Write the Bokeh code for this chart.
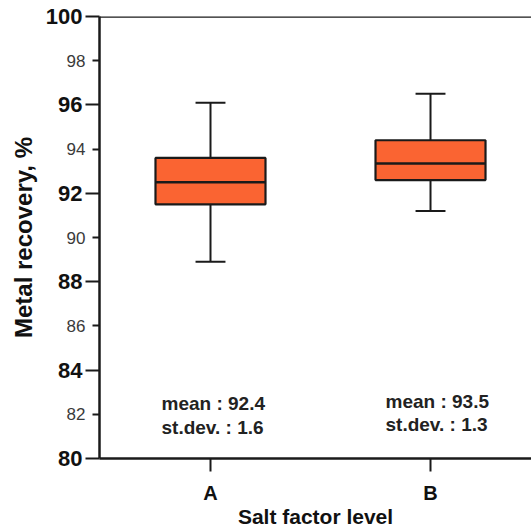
from bokeh.plotting import figure
from bokeh.models import Range1d, FixedTicker, Span, LinearAxis, ColumnDataSource
from bokeh.embed import file_html
from bokeh.resources import INLINE
from bokeh.core.properties import value

# ---- data ----
categories = ["A", "B"]
q1 = [91.5, 92.6]
median = [92.5, 93.35]
q3 = [93.6, 94.4]
whisker_low = [88.9, 91.2]
whisker_high = [96.1, 96.5]
mean_vals = [92.4, 93.5]
std_vals = [1.6, 1.3]
y_major_ticks = [80, 84, 88, 92, 96, 100]
y_minor_ticks = [82, 86, 90, 94, 98]

# ---- layout / style constants ----
FONT = "Liberation Sans"
BOX_W = 0.5
CAP_W = 0.136
FILL = "#FA6432"
DARK = "#1a1a1a"
stat_text_y = [81.94, 82.05]
stat_text_xoff = [-49, -45]

xpos = [i + 1 for i in range(len(categories))]

p = figure(width=531, height=530, output_backend="svg", toolbar_location=None,
           x_range=Range1d(0.4955, 2.459), y_range=Range1d(80, 100),
           min_border_left=99, min_border_right=0, min_border_top=16, min_border_bottom=72)
p.outline_line_color = None
p.xgrid.grid_line_color = None
p.ygrid.grid_line_color = None
p.background_fill_color = "white"
p.border_fill_color = "white"

# inner y axis: bold major labels + all ticks
ya = p.yaxis[0]
ya.ticker = FixedTicker(ticks=y_major_ticks, minor_ticks=y_minor_ticks)
ya.axis_line_width = 2.5
ya.axis_line_color = DARK
ya.major_tick_out = 14
ya.major_tick_in = 0
ya.minor_tick_out = 7
ya.minor_tick_in = 0
ya.major_tick_line_width = 2
ya.minor_tick_line_width = 2
ya.major_tick_line_color = DARK
ya.minor_tick_line_color = DARK
ya.major_label_text_font = FONT
ya.major_label_text_font_style = "bold"
ya.major_label_text_font_size = "22px"
ya.major_label_text_color = "#111111"
ya.major_label_standoff = 3

# outer y axis: regular labels for the in-between ticks, and the title
ya2 = LinearAxis(ticker=FixedTicker(ticks=y_minor_ticks, minor_ticks=[]))
ya2.axis_line_color = None
ya2.major_tick_line_color = None
ya2.minor_tick_line_color = None
ya2.major_tick_out = 0
ya2.major_tick_in = 0
ya2.minor_tick_out = 0
ya2.minor_tick_in = 0
ya2.major_label_text_font = FONT
ya2.major_label_text_font_size = "17px"
ya2.major_label_text_color = "#3a3a3a"
ya2.major_label_standoff = -43
ya2.axis_label = "Metal recovery, %"
ya2.axis_label_text_font = FONT
ya2.axis_label_text_font_style = "bold"
ya2.axis_label_text_font_size = "24px"
ya2.axis_label_text_color = "#111111"
ya2.axis_label_standoff = 27
p.add_layout(ya2, "left")

# x axis
xa = p.xaxis[0]
xa.ticker = FixedTicker(ticks=xpos)
xa.major_label_overrides = {x: c for x, c in zip(xpos, categories)}
xa.axis_line_width = 2.5
xa.axis_line_color = DARK
xa.major_tick_out = 13
xa.major_tick_in = 0
xa.major_tick_line_width = 2
xa.major_tick_line_color = DARK
xa.minor_tick_line_color = None
xa.major_label_text_font = FONT
xa.major_label_text_font_style = "bold"
xa.major_label_text_font_size = "20px"
xa.major_label_text_color = "#111111"
xa.major_label_standoff = 10
xa.axis_label = "Salt factor level"
xa.axis_label_text_font = FONT
xa.axis_label_text_font_style = "bold"
xa.axis_label_text_font_size = "21px"
xa.axis_label_text_color = "#111111"
xa.axis_label_standoff = -2

# top frame line
p.add_layout(Span(location=100, dimension="width", line_color=DARK, line_width=2.5))

# boxes
src = ColumnDataSource(dict(
    x=xpos, q1=q1, q3=q3, med=median, lo=whisker_low, hi=whisker_high,
    bx0=[x - BOX_W / 2 for x in xpos], bx1=[x + BOX_W / 2 for x in xpos],
    cx0=[x - CAP_W / 2 for x in xpos], cx1=[x + CAP_W / 2 for x in xpos],
))
p.segment(x0="x", y0="q3", x1="x", y1="hi", line_color=DARK, line_width=2, source=src)
p.segment(x0="x", y0="q1", x1="x", y1="lo", line_color=DARK, line_width=2, source=src)
p.segment(x0="cx0", y0="hi", x1="cx1", y1="hi", line_color=DARK, line_width=2, source=src)
p.segment(x0="cx0", y0="lo", x1="cx1", y1="lo", line_color=DARK, line_width=2, source=src)
p.vbar(x="x", width=BOX_W, bottom="q1", top="q3", fill_color=FILL, line_color=DARK,
       line_width=2.2, source=src)
p.segment(x0="bx0", y0="med", x1="bx1", y1="med", line_color=DARK, line_width=2.5, source=src)

# stats text
for x, m, s, ty, xo in zip(xpos, mean_vals, std_vals, stat_text_y, stat_text_xoff):
    p.text(x=[x], y=[ty], text=[f"mean : {m}\nst.dev. : {s}"], x_offset=xo,
           text_font=value(FONT), text_font_style="bold", text_font_size="19px",
           text_align="left", text_baseline="middle", text_line_height=1.12,
           text_color="#222222")

open("out.html", "w").write(file_html(p, INLINE))
